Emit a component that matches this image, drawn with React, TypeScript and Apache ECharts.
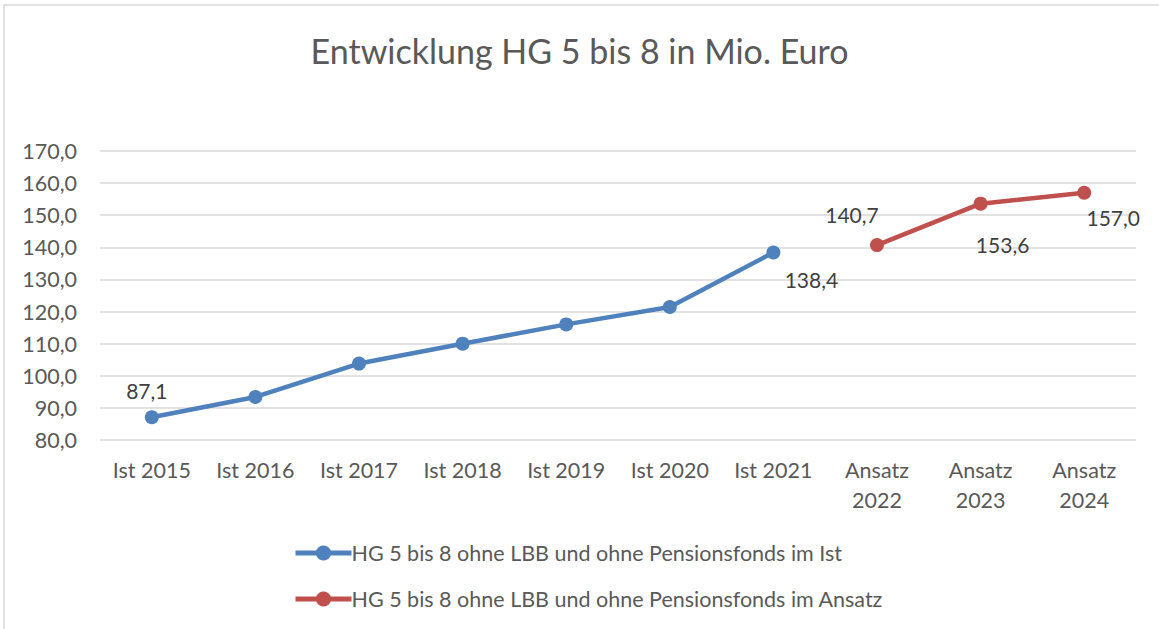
import React, { useEffect, useRef } from "react";
import * as echarts from "echarts";

const categories = [
  "Ist 2015", "Ist 2016", "Ist 2017", "Ist 2018", "Ist 2019", "Ist 2020", "Ist 2021",
  "Ansatz\n2022", "Ansatz\n2023", "Ansatz\n2024",
];
const istValues: (number | null)[] = [87.1, 93.4, 103.8, 110.0, 116.0, 121.4, 138.4, null, null, null];
const ansatzValues: (number | null)[] = [null, null, null, null, null, null, null, 140.7, 153.6, 157.0];
const istLabelled = [0, 6];
const ansatzLabelled = [7, 8, 9];
const seriesNames = [
  "HG 5 bis 8 ohne LBB und ohne Pensionsfonds im Ist",
  "HG 5 bis 8 ohne LBB und ohne Pensionsfonds im Ansatz",
];
const titleText = "Entwicklung HG 5 bis 8 in Mio. Euro";

const FONT = "Lato, 'Open Sans', sans-serif";
const SYM = 14;
// label center offset from point center, per category index
const labelOffsets: Record<number, [number, number]> = {
  0: [-5, -27],
  6: [38, 27],
  7: [-25, -31],
  8: [22, 41],
  9: [29, 25],
};

const fmt = (v: number) => v.toFixed(1).replace(".", ",");

function buildData(values: (number | null)[], labelled: number[]) {
  return values.map((v, i) => {
    if (v === null) return null;
    const off = labelOffsets[i];
    if (labelled.includes(i) && off) {
      return {
        value: v,
        label: {
          show: true,
          position: [off[0] + SYM / 2, off[1] + SYM / 2],
          align: "center",
          verticalAlign: "middle",
          formatter: () => fmt(v),
          fontSize: 21,
          fontFamily: FONT,
          color: "#404040",
        },
      };
    }
    return { value: v, label: { show: false } };
  });
}

export default function App() {
  const ref = useRef<HTMLDivElement>(null);
  useEffect(() => {
    if (!ref.current) return;
    const chart = echarts.init(ref.current, undefined, { renderer: "svg" });
    chart.setOption({
      animation: false,
      backgroundColor: "#ffffff",
      title: {
        text: titleText,
        left: "center",
        top: 28,
        textStyle: { fontFamily: FONT, fontSize: 34, fontWeight: "normal", color: "#595959" },
      },
      graphic: [
        {
          type: "rect",
          shape: { x: 4, y: 5, width: 1170, height: 640 },
          style: { fill: "none", stroke: "#d9d9d9", lineWidth: 1.5 },
          silent: true,
        },
      ],
      grid: { left: 100, right: 23, top: 151, bottom: 189, containLabel: false },
      xAxis: {
        type: "category",
        data: categories,
        boundaryGap: true,
        axisLine: { show: false },
        axisTick: { show: false },
        axisLabel: {
          fontFamily: FONT,
          fontSize: 21.5,
          color: "#595959",
          margin: 15,
          lineHeight: 30,
          interval: 0,
        },
      },
      yAxis: {
        type: "value",
        min: 80,
        max: 170,
        interval: 10,
        axisLine: { show: false },
        axisTick: { show: false },
        splitLine: { lineStyle: { color: "#d9d9d9", width: 1.5 } },
        axisLabel: {
          fontFamily: FONT,
          fontSize: 21.5,
          color: "#595959",
          margin: 23,
          formatter: (v: number) => fmt(v),
        },
      },
      legend: {
        orient: "vertical",
        left: 288,
        top: 536,
        itemWidth: 56,
        itemHeight: 19,
        itemGap: 22,
        lineStyle: { width: 5 },
        textStyle: { fontFamily: FONT, fontSize: 21.5, color: "#595959", padding: [0, 0, 0, -5], lineHeight: 24 },
        data: seriesNames,
      },
      series: [
        {
          name: seriesNames[0],
          type: "line",
          data: buildData(istValues, istLabelled),
          connectNulls: false,
          symbol: "circle",
          symbolSize: SYM,
          color: "#4f81bd",
          lineStyle: { width: 4.5, color: "#4f81bd" },
          itemStyle: { color: "#4f81bd" },
        },
        {
          name: seriesNames[1],
          type: "line",
          data: buildData(ansatzValues, ansatzLabelled),
          connectNulls: false,
          symbol: "circle",
          symbolSize: SYM,
          color: "#c0504d",
          lineStyle: { width: 4.5, color: "#c0504d" },
          itemStyle: { color: "#c0504d" },
        },
      ],
    });
    return () => chart.dispose();
  }, []);
  return (
    <div
      ref={ref}
      style={{ position: "fixed", left: 0, top: 0, width: 1159, height: 629 }}
    />
  );
}
